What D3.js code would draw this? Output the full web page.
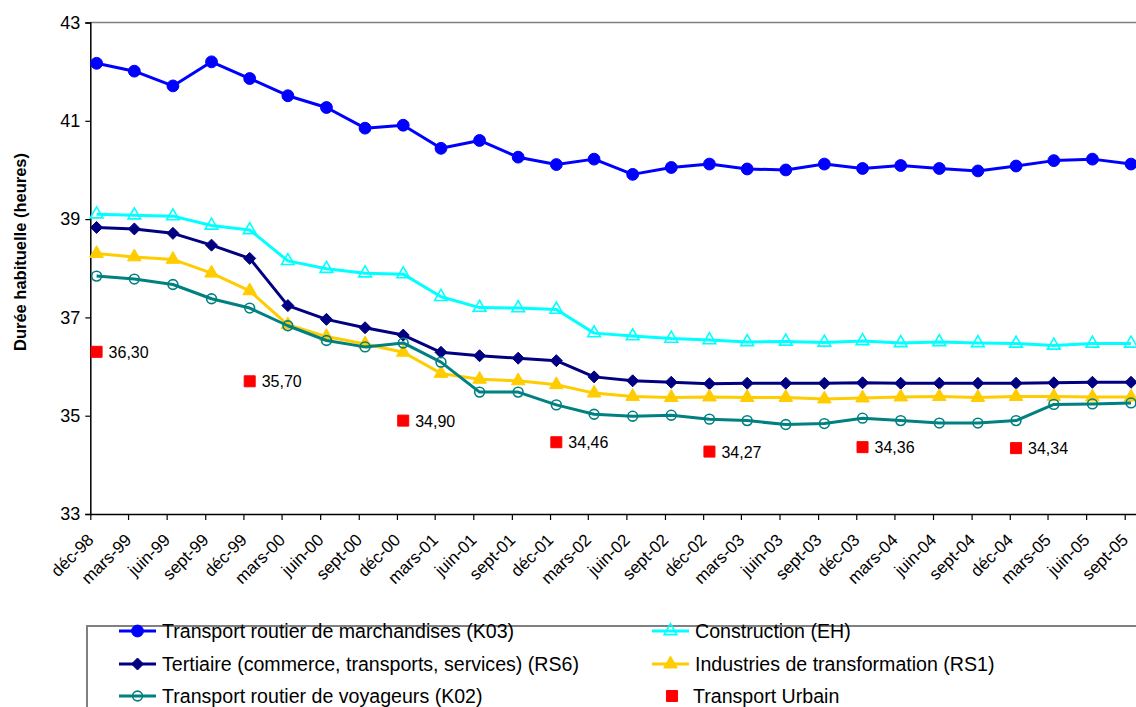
<!DOCTYPE html>
<html>
<head>
<meta charset="utf-8">
<script src="https://cdn.jsdelivr.net/npm/d3@7"></script>
<style>
  body { margin: 0; background: #fff; }
  svg { display: block; font-family: Arial, "Liberation Sans", sans-serif; }
</style>
</head>
<body>
<div id="chart"></div>
<script>
// quarterly categories, déc-98 .. sept-05
const categories = ["déc-98", "mars-99", "juin-99", "sept-99", "déc-99", "mars-00", "juin-00",
  "sept-00", "déc-00", "mars-01", "juin-01", "sept-01", "déc-01", "mars-02", "juin-02",
  "sept-02", "déc-02", "mars-03", "juin-03", "sept-03", "déc-03", "mars-04", "juin-04",
  "sept-04", "déc-04", "mars-05", "juin-05", "sept-05"];

const k03 = [42.17, 42.01, 41.71, 42.20, 41.86, 41.51, 41.27, 40.85, 40.91, 40.44, 40.60, 40.26,
  40.11, 40.22, 39.91, 40.05, 40.12, 40.02, 40.00, 40.12, 40.03, 40.09, 40.03, 39.98, 40.08,
  40.19, 40.22, 40.12];
const construction = [39.10, 39.08, 39.06, 38.87, 38.78, 38.15, 37.99, 37.90, 37.88, 37.42, 37.20,
  37.19, 37.16, 36.68, 36.62, 36.57, 36.54, 36.50, 36.51, 36.49, 36.52, 36.48, 36.50, 36.48,
  36.47, 36.43, 36.47, 36.47];
const tertiaire = [38.83, 38.80, 38.71, 38.47, 38.20, 37.24, 36.96, 36.79, 36.64, 36.29, 36.22,
  36.17, 36.12, 35.79, 35.71, 35.68, 35.65, 35.66, 35.66, 35.66, 35.67, 35.66, 35.66, 35.66,
  35.66, 35.67, 35.68, 35.68];
const industries = [38.30, 38.23, 38.18, 37.90, 37.54, 36.85, 36.61, 36.46, 36.29, 35.86, 35.74,
  35.71, 35.63, 35.46, 35.39, 35.37, 35.38, 35.37, 35.37, 35.34, 35.36, 35.38, 35.39, 35.37,
  35.39, 35.39, 35.38, 35.38];
const k02 = [37.84, 37.78, 37.67, 37.38, 37.19, 36.83, 36.53, 36.40, 36.48, 36.09, 35.48, 35.48,
  35.22, 35.03, 34.99, 35.01, 34.93, 34.90, 34.82, 34.84, 34.95, 34.90, 34.85, 34.85, 34.90,
  35.23, 35.24, 35.26];
// only the december values are known
const urbain = [36.30, null, null, null, 35.70, null, null, null, 34.90, null, null, null, 34.46,
  null, null, null, 34.27, null, null, null, 34.36, null, null, null, 34.34, null, null, null];

const yTicks = [33, 35, 37, 39, 41, 43];

const seriesList = [
  { name: "Transport routier de marchandises (K03)", values: k03, color: "#0000ff", marker: "circle", fill: "#0000ff", size: 110 },
  { name: "Construction (EH)", values: construction, color: "#00ffff", marker: "triangle", fill: "none", size: 70 },
  { name: "Tertiaire (commerce, transports, services) (RS6)", values: tertiaire, color: "#000080", marker: "diamond", fill: "#000080", size: 6 },
  { name: "Industries de transformation (RS1)", values: industries, color: "#ffcc00", marker: "triangle", fill: "#ffcc00", size: 80 },
  { name: "Transport routier de voyageurs (K02)", values: k02, color: "#008080", marker: "circle", fill: "none", size: 75 },
  { name: "Transport Urbain", values: urbain, color: "#ff0000", marker: "square", fill: "#ff0000", size: 121, noLine: true }
];

const width = 1136, height = 707;
const margin = { top: 22.5, left: 90.3, bottom: 514 };

// data points sit mid-month, ticks on the 1st
const tickDates = categories.map((c, i) => new Date(1998, 11 + 3 * i, 1));
const pointDates = categories.map((c, i) => new Date(1998, 11 + 3 * i, 16));

const x = d3.scaleTime()
  .domain([new Date(1998, 11, 1), new Date(2005, 9, 1)])
  .range([margin.left, 1137.3]);
const y = d3.scaleLinear().domain([33, 43]).range([margin.bottom, margin.top]);

const svg = d3.select("#chart").append("svg")
  .attr("width", width)
  .attr("height", height);

svg.append("rect").attr("width", width).attr("height", height).attr("fill", "#fff");

// top border of plot area
svg.append("line")
  .attr("x1", margin.left).attr("x2", width)
  .attr("y1", y(43)).attr("y2", y(43))
  .attr("stroke", "#808080").attr("stroke-width", 1.5);

// Y axis
const yAxis = svg.append("g")
  .attr("transform", "translate(" + margin.left + ",0)")
  .call(d3.axisLeft(y).tickValues(yTicks).tickSize(5).tickPadding(5).tickFormat(d3.format("d")));
yAxis.select(".domain").attr("stroke", "#000").attr("stroke-width", 1.5);
yAxis.selectAll(".tick line").attr("stroke", "#000").attr("stroke-width", 1.2);
yAxis.selectAll("text").attr("font-size", 18).attr("fill", "#000").attr("font-family", "Arial, 'Liberation Sans'");

// X axis
const xAxis = svg.append("g")
  .attr("transform", "translate(0," + margin.bottom + ")")
  .call(d3.axisBottom(x).tickValues(tickDates).tickSize(6).tickSizeOuter(0)
    .tickFormat((d, i) => categories[i]));
xAxis.select(".domain").attr("stroke", "#000").attr("stroke-width", 1.5);
xAxis.selectAll(".tick line").attr("stroke", "#000").attr("stroke-width", 1.2);
xAxis.selectAll("text")
  .attr("font-size", 17)
  .attr("fill", "#000")
  .attr("font-family", "Arial, 'Liberation Sans'")
  .attr("text-anchor", "end")
  .attr("dy", null)
  .attr("y", 0)
  .attr("transform", "translate(4,27) rotate(-45)");

// Y title
svg.append("text")
  .attr("transform", "translate(25.5,252) rotate(-90)")
  .attr("text-anchor", "middle")
  .attr("font-size", 16.5)
  .attr("font-weight", "bold")
  .text("Durée habituelle (heures)");

function markerPath(type, size) {
  if (type === "diamond") {
    return "M0," + (-size) + "L" + size + ",0L0," + size + "L" + (-size) + ",0Z";
  }
  const sym = { circle: d3.symbolCircle, triangle: d3.symbolTriangle, square: d3.symbolSquare }[type];
  return d3.symbol().type(sym).size(size)();
}

const line = d3.line()
  .defined(d => d.v !== null)
  .x(d => x(d.date))
  .y(d => y(d.v));

seriesList.forEach(s => {
  const pts = s.values.map((v, i) => ({ v: v, date: pointDates[i] }));
  const g = svg.append("g");
  if (!s.noLine) {
    g.append("path")
      .datum(pts)
      .attr("fill", "none")
      .attr("stroke", s.color)
      .attr("stroke-width", 3)
      .attr("stroke-linejoin", "round")
      .attr("d", line);
  }
  g.selectAll("path.mk")
    .data(pts.filter(d => d.v !== null))
    .join("path")
    .attr("class", "mk")
    .attr("transform", d => "translate(" + x(d.date) + "," + y(d.v) + ")")
    .attr("d", markerPath(s.marker, s.size))
    .attr("fill", s.fill)
    .attr("stroke", s.color)
    .attr("stroke-width", s.fill === "none" ? 1.6 : 1);
  if (s.noLine) {
    g.selectAll("text")
      .data(pts.filter(d => d.v !== null))
      .join("text")
      .attr("x", d => x(d.date) + 12)
      .attr("y", d => y(d.v) + 6)
      .attr("font-size", 16)
      .text(d => d.v.toFixed(2).replace(".", ","));
  }
});

// legend
svg.append("rect")
  .attr("x", 87).attr("y", 626)
  .attr("width", 1070).attr("height", 100)
  .attr("fill", "none").attr("stroke", "#808080").attr("stroke-width", 2);

const legendCols = [119, 652];
const legendRows = [631, 664, 696];
seriesList.forEach((s, i) => {
  const lx = legendCols[i % 2], ly = legendRows[Math.floor(i / 2)];
  const g = svg.append("g").attr("transform", "translate(" + lx + "," + ly + ")");
  if (!s.noLine) {
    g.append("line").attr("x1", 0).attr("x2", 37).attr("y1", 0).attr("y2", 0)
      .attr("stroke", s.color).attr("stroke-width", 3);
  }
  g.append("path")
    .attr("transform", "translate(" + (s.noLine ? 20 : 18.5) + ",0)")
    .attr("d", markerPath(s.marker, s.size))
    .attr("fill", s.fill)
    .attr("stroke", s.color)
    .attr("stroke-width", s.fill === "none" ? 1.6 : 1);
  g.append("text")
    .attr("x", s.noLine ? 41 : 43)
    .attr("y", 7)
    .attr("font-size", 19.6)
    .text(s.name);
});
</script>
</body>
</html>
